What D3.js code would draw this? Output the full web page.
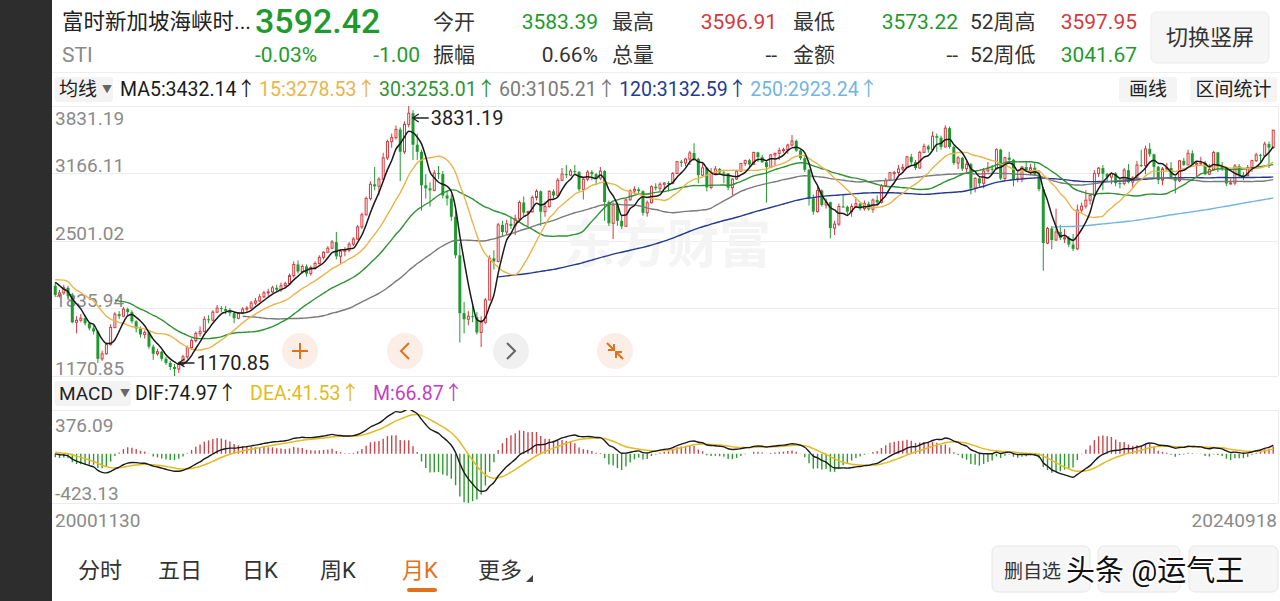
<!DOCTYPE html>
<html><head><meta charset="utf-8">
<script src="https://cdn.jsdelivr.net/npm/d3@7"></script>
<style>
html,body{margin:0;padding:0;background:#fff;overflow:hidden}
svg{display:block;font-family:Roboto,"Noto Sans CJK SC",sans-serif}
</style></head><body>
<svg id="c" width="1280" height="601"></svg>
<script>
// ---------------- DATA ----------------
const firstMonth = "2000-11";
// closes of the 15 months before the first visible candle (used only to seed the moving averages)
const preClose = [2050,2000,2080,2200,2400,2250,2100,2150,2050,1980,2100,2150,2220,2080,2050];
const open = [
2060,1970,
1990,2040,1960,1700,1720,1740,1690,1640,1610,1340,1390,1480,
1650,1780,1760,1830,1800,1710,1640,1580,1600,1460,1390,1410,
1340,1300,1260,1240,1290,1360,1450,1520,1590,1610,1730,1720,
1800,1840,1830,1810,1790,1740,1790,1830,1840,1890,1910,1950,
1990,2000,2040,2020,2060,2080,2160,2270,2200,2250,2180,2240,
2280,2340,2390,2430,2490,2350,2400,2410,2470,2520,2640,2760,
2920,3060,3040,3110,3320,3480,3520,3600,3380,3650,3760,3450,
3380,3050,3020,3000,3170,3160,2950,2920,2740,2360,1790,1730,
1760,1750,1600,1700,1920,2330,2300,2660,2590,2670,2650,2720,
2880,2780,2790,2930,2990,2790,2840,2990,2950,3100,3160,3150,
3190,3180,3010,3110,3180,3160,3120,3190,2885,2675,2855,2700,
2646,2906,2994,3010,2992,2779,2878,3036,3021,3060,3072,3069,
3167,3283,3270,3308,3368,3311,3150,3222,3029,3168,3211,3176,
3167,3027,3111,3189,3265,3296,3256,3374,3327,3277,3229,3350,
3365,3391,3402,3447,3487,3392,3317,3203,2921,2791,2998,2856,
2883,2629,2667,2841,2838,2791,2841,2869,2821,2869,2813,2905,
2881,3047,3097,3175,3175,3211,3226,3330,3277,3220,3374,3434,
3403,3534,3518,3428,3613,3428,3269,3320,3213,3257,3019,3118,
3069,3191,3213,3212,3401,3117,3322,3301,3106,3120,3229,3194,
3223,3154,3012,2481,2624,2511,2590,2530,2532,2466,2424,2806,
2844,2903,2950,3165,3219,3164,3131,3166,3071,3068,3199,3081,
3124,3249,3242,3408,3356,3232,3102,3211,3221,3131,3094,3291,
3251,3365,3262,3266,3271,3159,3206,3374,3236,3217,3068,3072,
3240,3152,3144,3224,3293,3350,3340,3456,3421];
const high = [
2095,2020,
2070,2060,1990,1760,1780,1760,1700,1670,1620,1420,1500,1680,
1800,1810,1850,1845,1820,1720,1660,1620,1610,1480,1440,1420,
1360,1320,1290,1310,1380,1470,1540,1610,1660,1760,1770,1820,
1870,1860,1860,1840,1800,1800,1850,1860,1910,1940,1980,2010,
2030,2060,2070,2090,2100,2180,2300,2310,2270,2270,2260,2300,
2360,2400,2450,2510,2590,2420,2440,2490,2540,2660,2780,2940,
3090,3230,3130,3370,3500,3560,3640,3620,3680,3831.19,3790,3560,
3400,3160,3080,3200,3240,3190,2990,2960,2800,2480,1900,1810,
1860,1800,1760,1940,2360,2410,2680,2700,2710,2740,2760,2900,
2940,2800,2950,3010,3000,2890,3000,3010,3120,3220,3250,3210,
3250,3190,3130,3200,3200,3170,3230,3200,2900,2880,2880,2760,
2920,3010,3040,3030,3000,2900,3050,3070,3080,3080,3090,3180,
3290,3300,3320,3390,3464,3320,3260,3230,3220,3240,3220,3190,
3170,3120,3200,3270,3300,3310,3380,3380,3350,3290,3360,3370,
3420,3420,3460,3545,3500,3400,3350,3210,2960,3050,3010,2920,
2890,2700,2870,2950,2850,2870,2930,2880,2900,2890,2920,2950,
3060,3120,3180,3190,3250,3260,3340,3360,3300,3390,3460,3450,
3580,3560,3540,3641,3630,3440,3340,3330,3290,3270,3130,3130,
3220,3280,3250,3415,3410,3330,3380,3310,3190,3240,3280,3260,
3280,3200,3030,2640,2650,2820,2660,2620,2550,2570,2860,2880,
3000,2960,3200,3230,3250,3170,3180,3180,3120,3220,3260,3140,
3290,3400,3440,3466,3360,3240,3230,3270,3280,3140,3300,3320,
3400,3395,3290,3330,3290,3260,3390,3380,3280,3230,3110,3260,
3260,3180,3250,3300,3370,3360,3480,3480,3597.95];
const low = [
1950,1945,
1970,1940,1690,1590,1700,1670,1620,1580,1300,1320,1380,1470,
1640,1730,1750,1770,1690,1600,1550,1540,1440,1330,1370,1320,
1280,1230,1170.85,1200,1270,1340,1430,1500,1560,1600,1690,1710,
1790,1800,1780,1760,1690,1730,1780,1800,1830,1870,1900,1940,
1960,1990,2000,2000,2040,2070,2140,2180,2180,2150,2160,2220,
2270,2320,2380,2420,2320,2270,2350,2390,2450,2510,2620,2750,
2900,3000,2950,3100,3300,3420,3500,3090,3360,3620,3300,3300,
2800,2920,2840,2990,3110,2920,2850,2700,2330,1500,1590,1670,
1700,1580,1456,1680,1920,2220,2290,2540,2560,2620,2560,2700,
2750,2650,2780,2900,2650,2740,2830,2920,2940,3090,3120,3140,
3150,2990,2910,3090,3100,3050,3100,2700,2650,2520,2650,2620,
2640,2900,2960,2960,2750,2740,2870,3000,2990,3020,2990,3060,
3160,3230,3240,3250,3290,3070,3140,2990,3010,3150,3160,3070,
3000,2950,3100,3180,3240,3230,3250,3280,3270,2880,3220,3240,
3300,3370,3360,3430,3380,3300,3180,2850,2760,2780,2840,2820,
2528,2560,2650,2830,2750,2740,2830,2800,2800,2800,2780,2850,
2870,3030,3090,3110,3150,3190,3220,3250,3200,3215,3370,3370,
3400,3380,3400,3420,3410,3250,3210,3190,3180,2960,2980,3030,
3020,3180,3170,3205,3100,3100,3290,3040,3080,3080,3180,3150,
3140,2990,2208,2470,2420,2500,2510,2480,2440,2400,2410,2780,
2820,2860,2930,3130,3000,3090,3060,3040,3020,3050,3070,3030,
3110,3230,3160,3330,3130,3060,3050,3200,3110,2969,3080,3240,
3250,3250,3140,3240,3150,3150,3190,3180,3190,3041.67,3060,3050,
3120,3100,3140,3180,3280,3270,3330,3220,3410];
const close = [
1970,1990,
2040,1960,1700,1720,1740,1690,1640,1610,1340,1390,1480,1650,
1780,1760,1830,1800,1710,1640,1580,1600,1460,1390,1410,1340,
1300,1260,1240,1290,1360,1450,1520,1590,1610,1730,1720,1800,
1840,1830,1810,1790,1740,1790,1830,1840,1890,1910,1950,1990,
2000,2040,2020,2060,2080,2160,2270,2200,2250,2180,2240,2280,
2340,2390,2430,2490,2350,2400,2410,2470,2520,2640,2760,2920,
3060,3040,3110,3320,3480,3520,3600,3380,3650,3760,3450,3380,
3050,3020,3000,3170,3160,2950,2920,2740,2360,1790,1730,1760,
1750,1600,1700,1920,2330,2300,2660,2590,2670,2650,2720,2880,
2780,2790,2930,2990,2790,2840,2990,2950,3100,3160,3150,3190,
3180,3010,3110,3180,3160,3120,3190,2885,2675,2855,2700,2646,
2906,2994,3010,2992,2779,2878,3036,3021,3060,3072,3069,3167,
3283,3270,3308,3368,3311,3150,3222,3029,3168,3211,3176,3167,
3027,3111,3189,3265,3296,3256,3374,3327,3277,3229,3350,3365,
3391,3402,3447,3487,3392,3317,3203,2921,2791,2998,2856,2883,
2629,2667,2841,2838,2791,2841,2869,2821,2869,2813,2905,2881,
3047,3097,3175,3175,3211,3226,3330,3277,3220,3374,3434,3403,
3534,3518,3428,3613,3428,3269,3320,3213,3257,3019,3118,3069,
3191,3213,3212,3401,3117,3322,3301,3106,3120,3229,3194,3223,
3154,3012,2481,2624,2511,2590,2530,2532,2466,2424,2806,2844,
2903,2950,3165,3219,3164,3131,3166,3071,3068,3199,3081,3124,
3249,3242,3408,3356,3232,3102,3211,3221,3131,3094,3291,3251,
3365,3262,3266,3271,3159,3206,3374,3236,3217,3068,3072,3240,
3152,3144,3224,3293,3350,3340,3456,3421,3592.42];

const maPeriods = [5,15,30,60,120,250];
const maLabels = ["MA5:3432.14↑","15:3278.53↑","30:3253.01↑","60:3105.21↑","120:3132.59↑","250:2923.24↑"];
const yTicks = [3831.19,3166.11,2501.02,1835.94,1170.85];
const macdTicks = [376.09,-423.13];
const macdLabels = ["DIF:74.97↑","DEA:41.53↑","M:66.87↑"];
const dateLabels = ["20001130","20240918"];
const quoteName = ["富时新加坡海峡时...","STI"];
const quotePrice = ["3592.42","-0.03%","-1.00"];
const statLabels1 = ["今开","最高","最低","52周高"];
const statValues1 = ["3583.39","3596.91","3573.22","3597.95"];
const statLabels2 = ["振幅","总量","金额","52周低"];
const statValues2 = ["0.66%","--","--","3041.67"];
const tabs = ["分时","五日","日K","周K","月K","更多"];

// ---------------- STYLE ----------------
const RED="#d4393f", GREEN="#1f9a2e", GRID="#ececec", AX="#8a8a8a", ORANGE="#e2711d";
const maColors=["#1a1a1a","#eab44a","#2f9334","#7a7a7a","#233a91","#74b5e0"];
const statColors1=[GREEN,RED,GREEN,RED], statColors2=["#333","#333","#333",GREEN];
const macdColors=["#1a1a1a","#e3bb22","#c23fc4"];

const svg=d3.select("#c");
const n=close.length;
const idx=d3.range(n);

// background / side strip
svg.append("rect").attr("x",0).attr("y",0).attr("width",1280).attr("height",601).attr("fill","#fff");
svg.append("rect").attr("x",0).attr("y",0).attr("width",52).attr("height",601).attr("fill","#2d2d2d");

// ---------------- HEADER ----------------
const hd=svg.append("g");
hd.append("text").attr("x",62).attr("y",29).attr("font-size",21.5).attr("fill","#222").text(quoteName[0]);
hd.append("text").attr("x",62).attr("y",62).attr("font-size",21).attr("fill","#8a8a8a").text(quoteName[1]);
hd.append("text").attr("x",255).attr("y",33).attr("font-size",34).attr("font-weight",500).attr("fill",GREEN).text(quotePrice[0]);
hd.append("text").attr("x",255).attr("y",62).attr("font-size",21).attr("fill",GREEN).text(quotePrice[1]);
hd.append("text").attr("x",420).attr("y",62).attr("text-anchor","end").attr("font-size",21).attr("fill",GREEN).text(quotePrice[2]);
const labX=[433,612,793,970], valX=[598,777,958,1137];
statLabels1.forEach((t,i)=>{
  hd.append("text").attr("x",labX[i]).attr("y",29).attr("font-size",21).attr("fill","#333").text(t);
  hd.append("text").attr("x",valX[i]).attr("y",29).attr("text-anchor","end").attr("font-size",21).attr("fill",statColors1[i]).text(statValues1[i]);
  hd.append("text").attr("x",labX[i]).attr("y",62).attr("font-size",21).attr("fill","#333").text(statLabels2[i]);
  hd.append("text").attr("x",valX[i]).attr("y",62).attr("text-anchor","end").attr("font-size",21).attr("fill",statColors2[i]).text(statValues2[i]);
});
hd.append("rect").attr("x",1151).attr("y",12).attr("width",118).attr("height",51).attr("rx",6).attr("fill","#f6f6f6").attr("stroke","#ebebeb");
hd.append("text").attr("x",1210).attr("y",45).attr("text-anchor","middle").attr("font-size",22).attr("fill","#333").text("切换竖屏");
hd.append("line").attr("x1",52).attr("x2",1280).attr("y1",72.5).attr("y2",72.5).attr("stroke","#eeeeee");

// MA legend row
function dropBox(x,y,w,label){
  hd.append("rect").attr("x",x).attr("y",y).attr("width",w).attr("height",25).attr("rx",3).attr("fill","#f3f3f3");
  hd.append("text").attr("x",x+4).attr("y",y+19).attr("font-size",19).attr("fill","#222").text(label);
  hd.append("text").attr("x",x+w-11).attr("y",y+16).attr("font-size",10).attr("fill","#666").text("▼");
}
dropBox(55,77,58,"均线");
const maText=hd.append("text").attr("x",120).attr("y",96).attr("font-size",19.5);
maLabels.forEach((t,i)=>maText.append("tspan").attr("dx",i?3:0).attr("fill",maColors[i]).text(t));
[[1119,58,"画线"],[1190,87,"区间统计"]].forEach(([x,w,t])=>{
  hd.append("rect").attr("x",x).attr("y",77).attr("width",w).attr("height",25).attr("rx",3).attr("fill","#f4f4f4");
  hd.append("text").attr("x",x+w/2).attr("y",96).attr("text-anchor","middle").attr("font-size",19).attr("fill","#222").text(t);
});

// ---------------- MAIN CHART ----------------
const x=d3.scaleBand().domain(idx).range([52.5,1276]).padding(0.3);
const cx=i=>x(i)+x.bandwidth()/2;
const y=d3.scaleLinear().domain([d3.min(yTicks),d3.max(yTicks)]).range([376,106]);

const main=svg.append("g");
main.selectAll("line.grid").data(yTicks).join("line").attr("class","grid")
  .attr("x1",52).attr("x2",1278).attr("y1",d=>Math.round(y(d))+0.5).attr("y2",d=>Math.round(y(d))+0.5).attr("stroke",GRID);
main.append("line").attr("x1",1278.5).attr("x2",1278.5).attr("y1",106).attr("y2",376).attr("stroke",GRID);
main.selectAll("text.yl").data(yTicks).join("text").attr("class","yl")
  .attr("x",55).attr("y",(d,i)=>i===0?y(d)+19:y(d)-1).attr("font-size",19).attr("fill",AX).text(d=>d.toFixed(2));

// faint watermark
main.append("text").attr("x",563).attr("y",263).attr("font-size",52).attr("font-weight",700).attr("fill","#f4f4f4").text("东方财富");

// candles
const cg=main.append("g");
idx.forEach(i=>{
  const up=close[i]>=open[i], col=up?RED:GREEN;
  cg.append("line").attr("x1",cx(i)).attr("x2",cx(i)).attr("y1",y(high[i])).attr("y2",y(low[i])).attr("stroke",col).attr("stroke-width",1);
  const top=y(Math.max(open[i],close[i])), bot=y(Math.min(open[i],close[i]));
  if(up){
    cg.append("rect").attr("x",x(i)+0.5).attr("y",top).attr("width",x.bandwidth()-1).attr("height",Math.max(1,bot-top))
      .attr("fill","#fff").attr("stroke",col).attr("stroke-width",1);
  } else {
    cg.append("rect").attr("x",x(i)).attr("y",top).attr("width",x.bandwidth()).attr("height",Math.max(1,bot-top)).attr("fill",col);
  }
});

// moving averages
const allClose=preClose.concat(close), off=preClose.length;
function sma(N){return idx.map(i=>{const j=i+off; return j<N-1?null:d3.mean(allClose.slice(j-N+1,j+1));});}
maPeriods.slice().reverse().forEach((N,k)=>{
  const ci=maPeriods.length-1-k;
  const vals=sma(N);
  const line=d3.line().defined(i=>vals[i]!==null).x(i=>cx(i)).y(i=>y(vals[i])).curve(d3.curveMonotoneX);
  main.append("path").attr("d",line(idx)).attr("fill","none").attr("stroke",maColors[ci]).attr("stroke-width",N===5?1.5:1.4);
});

// max / min markers
const iMax=d3.maxIndex(high), iMin=d3.minIndex(low);
function marker(i,yy,val){
  const x0=cx(i)+4;
  main.append("path").attr("d",`M${x0+6},${yy-4}L${x0},${yy}L${x0+6},${yy+4}M${x0},${yy}H${x0+16}`).attr("fill","none").attr("stroke","#222").attr("stroke-width",1.3);
  main.append("text").attr("x",x0+18).attr("y",yy+7).attr("font-size",20).attr("fill","#222").text(val.toFixed(2));
}
marker(iMax,y(high[iMax])+12,high[iMax]);
marker(iMin,y(low[iMin])-13,low[iMin]);

// round buttons
const btns=[[300,"plus","#fbede5",ORANGE],[405,"left","#fbede5",ORANGE],[511,"right","#efefef","#666"],[615,"shrink","#fbede5",ORANGE]];
btns.forEach(([bx,t,fill,st])=>{
  const by=351;
  main.append("circle").attr("cx",bx).attr("cy",by).attr("r",18).attr("fill",fill).attr("opacity",0.95);
  let d;
  if(t==="plus") d=`M${bx-8},${by}H${bx+8}M${bx},${by-8}V${by+8}`;
  if(t==="left") d=`M${bx+4},${by-8}L${bx-4},${by}L${bx+4},${by+8}`;
  if(t==="right") d=`M${bx-4},${by-8}L${bx+4},${by}L${bx-4},${by+8}`;
  if(t==="shrink") d=`M${bx-8},${by-8}L${bx-1},${by-1}M${bx-1},${by-7}V${by-1}H${bx-7}M${bx+8},${by+8}L${bx+1},${by+1}M${bx+1},${by+7}V${by+1}H${bx+7}`;
  main.append("path").attr("d",d).attr("fill","none").attr("stroke",st).attr("stroke-width",2);
});

// ---------------- MACD ----------------
dropBox(55,381,76,"MACD");
const mt=svg.append("text").attr("x",135).attr("y",400).attr("font-size",19.5);
macdLabels.forEach((t,i)=>mt.append("tspan").attr("dx",i?13:0).attr("fill",macdColors[i]).text(t));

function ema(arr,N){const k=2/(N+1),o=[];arr.forEach((v,i)=>o.push(i?o[i-1]+k*(v-o[i-1]):v));return o;}
const e12=ema(allClose,12), e26=ema(allClose,26);
const difAll=e12.map((v,i)=>v-e26[i]), deaAll=ema(difAll,9);
const dif=idx.map(i=>difAll[i+off]), dea=idx.map(i=>deaAll[i+off]), mh=idx.map(i=>2*(dif[i]-dea[i]));

const ym=d3.scaleLinear().domain([d3.min(macdTicks),d3.max(macdTicks)]).range([503,410]);
const mg=svg.append("g");
svg.append("clipPath").attr("id","mclip").append("rect").attr("x",52).attr("y",410).attr("width",1228).attr("height",93);
[410.5,503.5].forEach(v=>mg.append("line").attr("x1",52).attr("x2",1278).attr("y1",v).attr("y2",v).attr("stroke",GRID));
mg.append("line").attr("x1",1278.5).attr("x2",1278.5).attr("y1",410).attr("y2",503).attr("stroke",GRID);
mg.append("text").attr("x",55).attr("y",432).attr("font-size",19).attr("fill",AX).text(macdTicks[0].toFixed(2));
mg.append("text").attr("x",55).attr("y",500).attr("font-size",19).attr("fill",AX).text(macdTicks[1].toFixed(2));
const mc=mg.append("g").attr("clip-path","url(#mclip)");
idx.forEach(i=>{
  mc.append("line").attr("x1",cx(i)).attr("x2",cx(i)).attr("y1",ym(0)).attr("y2",ym(mh[i])===ym(0)?ym(0)+1:ym(mh[i]))
    .attr("stroke",mh[i]>=0?"#c9474c":"#2e9a2e").attr("stroke-width",1.4);
});
const lm=arr=>d3.line().x(i=>cx(i)).y(i=>ym(arr[i])).curve(d3.curveMonotoneX)(idx);
mc.append("path").attr("d",lm(dea)).attr("fill","none").attr("stroke",macdColors[1]).attr("stroke-width",1.5);
mc.append("path").attr("d",lm(dif)).attr("fill","none").attr("stroke",macdColors[0]).attr("stroke-width",1.4);

svg.append("text").attr("x",55).attr("y",527).attr("font-size",19).attr("fill",AX).text(dateLabels[0]);
svg.append("text").attr("x",1277).attr("y",527).attr("text-anchor","end").attr("font-size",19).attr("fill",AX).text(dateLabels[1]);

// ---------------- BOTTOM TABS ----------------
const tabX=[78,158,242,320,402,478];
tabs.forEach((t,i)=>svg.append("text").attr("x",tabX[i]).attr("y",578).attr("font-size",22).attr("fill",t==="月K"?ORANGE:"#333").text(t));
svg.append("path").attr("d","M533,575L533,582L526,582Z").attr("fill","#444");
svg.append("rect").attr("x",407).attr("y",588).attr("width",30).attr("height",4).attr("rx",2).attr("fill",ORANGE);
[[992,98],[1098,82],[1189,89]].forEach(([bx,w])=>svg.append("rect").attr("x",bx).attr("y",546).attr("width",w).attr("height",46).attr("rx",6).attr("fill","#f6f6f6").attr("stroke","#e6e6e6"));
svg.append("text").attr("x",1004).attr("y",578).attr("font-size",19).attr("fill","#333").text("删自选");
svg.append("text").attr("x",1066).attr("y",581).attr("font-size",29).attr("fill","#111").attr("stroke","#fff").attr("stroke-width",3)
  .attr("paint-order","stroke").text("头条 @运气王");
</script></body></html>
